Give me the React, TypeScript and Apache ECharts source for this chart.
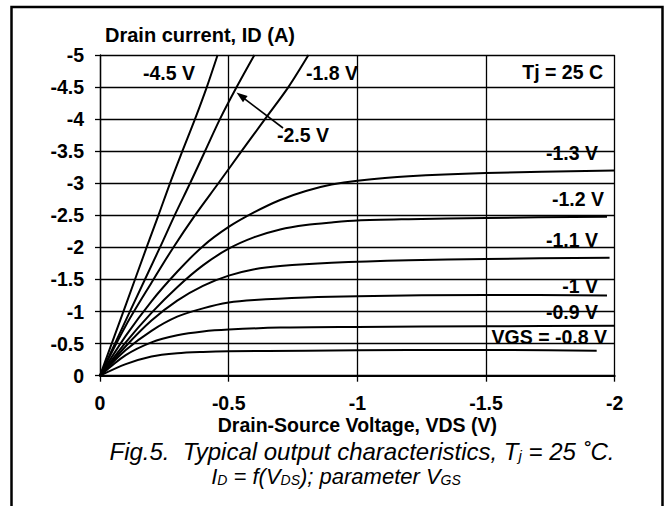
import React, { useEffect, useRef } from "react";
import * as echarts from "echarts";

// ---- data ----
const xTickValues = [0, -0.5, -1, -1.5, -2];
const yTickValues = [0, -0.5, -1, -1.5, -2, -2.5, -3, -3.5, -4, -4.5, -5];

const vgsLabels = ["-4.5 V", "-2.5 V", "-1.8 V", "-1.3 V", "-1.2 V", "-1.1 V", "-1 V", "-0.9 V", "VGS = -0.8 V"];

const vds_m45 = [0, -0.1, -0.181, -0.227, -0.272, -0.32, -0.369, -0.415, -0.457];
const id_m45 = [0, -1.1, -2, -2.5, -3, -3.5, -4, -4.5, -5];

const vds_m25 = [0, -0.116, -0.233, -0.29, -0.35, -0.408, -0.466, -0.531, -0.6];
const id_m25 = [0, -1.0, -2, -2.5, -3, -3.5, -4, -4.5, -5];

const vds_m18 = [0, -0.1, -0.2, -0.285, -0.369, -0.46, -0.55, -0.641, -0.732, -0.81];
const id_m18 = [0, -0.78, -1.45, -2, -2.5, -3, -3.5, -4, -4.5, -5];

const vds_m13 = [0, -0.1, -0.2, -0.3, -0.4, -0.5, -0.6, -0.7, -0.8, -0.9, -1.0, -1.2, -1.5, -2.0];
const id_m13 = [0, -0.62, -1.16, -1.62, -2.02, -2.32, -2.55, -2.74, -2.88, -2.98, -3.04, -3.11, -3.16, -3.2];

const vds_m12 = [0, -0.1, -0.2, -0.3, -0.4, -0.5, -0.6, -0.7, -0.8, -0.9, -1.0, -1.2, -1.5, -1.97];
const id_m12 = [0, -0.52, -0.98, -1.38, -1.72, -1.98, -2.16, -2.28, -2.35, -2.39, -2.42, -2.44, -2.46, -2.48];

const vds_m11 = [0, -0.1, -0.2, -0.3, -0.4, -0.5, -0.6, -0.7, -0.9, -1.2, -1.5, -1.98];
const id_m11 = [0, -0.46, -0.86, -1.17, -1.4, -1.56, -1.66, -1.71, -1.76, -1.8, -1.82, -1.84];

const vds_m10 = [0, -0.1, -0.2, -0.3, -0.4, -0.5, -0.6, -0.8, -1.0, -1.5, -1.97];
const id_m10 = [0, -0.4, -0.7, -0.92, -1.05, -1.14, -1.18, -1.22, -1.24, -1.26, -1.25];

const vds_m09 = [0, -0.1, -0.2, -0.3, -0.4, -0.5, -0.7, -1.0, -1.5, -2.0];
const id_m09 = [0, -0.32, -0.52, -0.63, -0.69, -0.72, -0.75, -0.76, -0.77, -0.78];

const vds_m08 = [0, -0.1, -0.2, -0.3, -0.4, -0.5, -0.8, -1.2, -1.6, -1.93];
const id_m08 = [0, -0.18, -0.3, -0.35, -0.37, -0.38, -0.39, -0.4, -0.4, -0.39];

const curves = [
  [vds_m45, id_m45],
  [vds_m25, id_m25],
  [vds_m18, id_m18],
  [vds_m13, id_m13],
  [vds_m12, id_m12],
  [vds_m11, id_m11],
  [vds_m10, id_m10],
  [vds_m09, id_m09],
  [vds_m08, id_m08],
];

const FONT = 'Arial, "Liberation Sans", Helvetica, sans-serif';
const LBL = 19.5;

function lbl(text: string, x: number, y: number, align: string) {
  return {
    type: "text",
    x,
    y,
    z: 10,
    style: {
      text,
      fill: "#000",
      fontWeight: "bold",
      fontSize: LBL,
      fontFamily: FONT,
      align,
      verticalAlign: "middle",
    },
  };
}

export default function App() {
  const ref = useRef<HTMLDivElement>(null);
  useEffect(() => {
    if (!ref.current) return;
    const chart = echarts.init(ref.current, null, { renderer: "svg" });
    const axisText = {
      color: "#000",
      fontWeight: "bold" as const,
      fontSize: LBL,
      fontFamily: FONT,
    };
    const capRich = (big: number, small: number) => ({
      a: { fontSize: big, fontStyle: "italic", fontFamily: FONT, color: "#000", lineHeight: big + 2, verticalAlign: "bottom" },
      s: { fontSize: small, fontStyle: "italic", fontFamily: FONT, color: "#000", lineHeight: small, verticalAlign: "bottom" },
    });
    const option: any = {
      animation: false,
      backgroundColor: "#ffffff",
      grid: { left: 100, right: 57.3, top: 55, bottom: 130.3, containLabel: false },
      xAxis: {
        type: "value",
        min: -2,
        max: 0,
        interval: 0.5,
        inverse: true,
        position: "bottom",
        axisLine: { show: true, onZero: false, lineStyle: { color: "#000", width: 2 } },
        axisTick: { show: true, length: 6, lineStyle: { color: "#000", width: 1.3 } },
        axisLabel: {
          ...axisText,
          margin: 18,
          lineHeight: 18,
          formatter: (v: number) => (xTickValues.indexOf(v) >= 0 ? String(v) : ""),
        },
        splitLine: { show: true, lineStyle: { color: "#000", width: 1.3 } },
        name: "Drain-Source Voltage, VDS (V)",
        nameLocation: "middle",
        nameGap: 41,
        nameMoveOverlap: false,
        nameTextStyle: { ...axisText, lineHeight: 16 },
      },
      yAxis: {
        type: "value",
        min: -5,
        max: 0,
        interval: 0.5,
        inverse: true,
        position: "left",
        axisLine: { show: true, onZero: false, lineStyle: { color: "#000", width: 1.3 } },
        axisTick: { show: true, length: 5, lineStyle: { color: "#000", width: 1.3 } },
        axisLabel: {
          ...axisText,
          margin: 16,
          formatter: (v: number) => (yTickValues.indexOf(v) >= 0 ? String(v) : ""),
        },
        splitLine: { show: true, lineStyle: { color: "#000", width: 1.3 } },
      },
      series: curves.map(([xs, ys], i) => ({
        name: vgsLabels[i],
        type: "line",
        data: xs.map((x, k) => [x, ys[k]]),
        smooth: 0.3,
        showSymbol: false,
        symbol: "none",
        clip: true,
        lineStyle: { color: "#000", width: 2 },
        z: 5,
      })),
      graphic: [
        {
          type: "rect",
          z: 1,
          shape: { x: 11.5, y: 7, width: 651, height: 520 },
          style: { fill: "none", stroke: "#000", lineWidth: 2.5 },
        },
        {
          type: "text",
          x: 105,
          y: 35,
          style: {
            text: "Drain current, ID (A)",
            fill: "#000",
            fontWeight: "bold",
            fontSize: 20,
            fontFamily: FONT,
            align: "left",
            verticalAlign: "middle",
          },
        },
        lbl("-4.5 V", 143, 73, "left"),
        lbl("-1.8 V", 306, 73, "left"),
        lbl("Tj = 25 C", 603, 72, "right"),
        lbl("-2.5 V", 277, 135, "left"),
        lbl("-1.3 V", 598, 153, "right"),
        lbl("-1.2 V", 604, 199, "right"),
        lbl("-1.1 V", 598, 240, "right"),
        lbl("-1 V", 598, 286, "right"),
        lbl("-0.9 V", 598, 312, "right"),
        lbl("VGS = -0.8 V", 607, 337, "right"),
        {
          type: "line",
          z: 10,
          shape: { x1: 283, y1: 128, x2: 243, y2: 97.6 },
          style: { stroke: "#000", lineWidth: 1.6 },
        },
        {
          type: "polygon",
          z: 10,
          shape: { points: [[236.5, 92.6], [247.6, 96.0], [243.0, 102.2]] },
          style: { fill: "#000" },
        },
        {
          type: "text",
          x: 362,
          y: 450,
          style: {
            text: "{a|Fig.5.  Typical output characteristics, T}{s|j}{a| = 25 ˚C.}",
            rich: capRich(24, 15),
            align: "center",
            verticalAlign: "middle",
          },
        },
        {
          type: "text",
          x: 336,
          y: 475,
          style: {
            text: "{a|I}{s|D}{a| = f(V}{s|DS}{a|); parameter V}{s|GS}",
            rich: capRich(22, 14),
            align: "center",
            verticalAlign: "middle",
          },
        },
      ],
    };
    chart.setOption(option);
    return () => chart.dispose();
  }, []);
  return (
    <div
      ref={ref}
      style={{ position: "absolute", left: 0, top: 0, width: 672, height: 506, background: "#fff" }}
    />
  );
}
